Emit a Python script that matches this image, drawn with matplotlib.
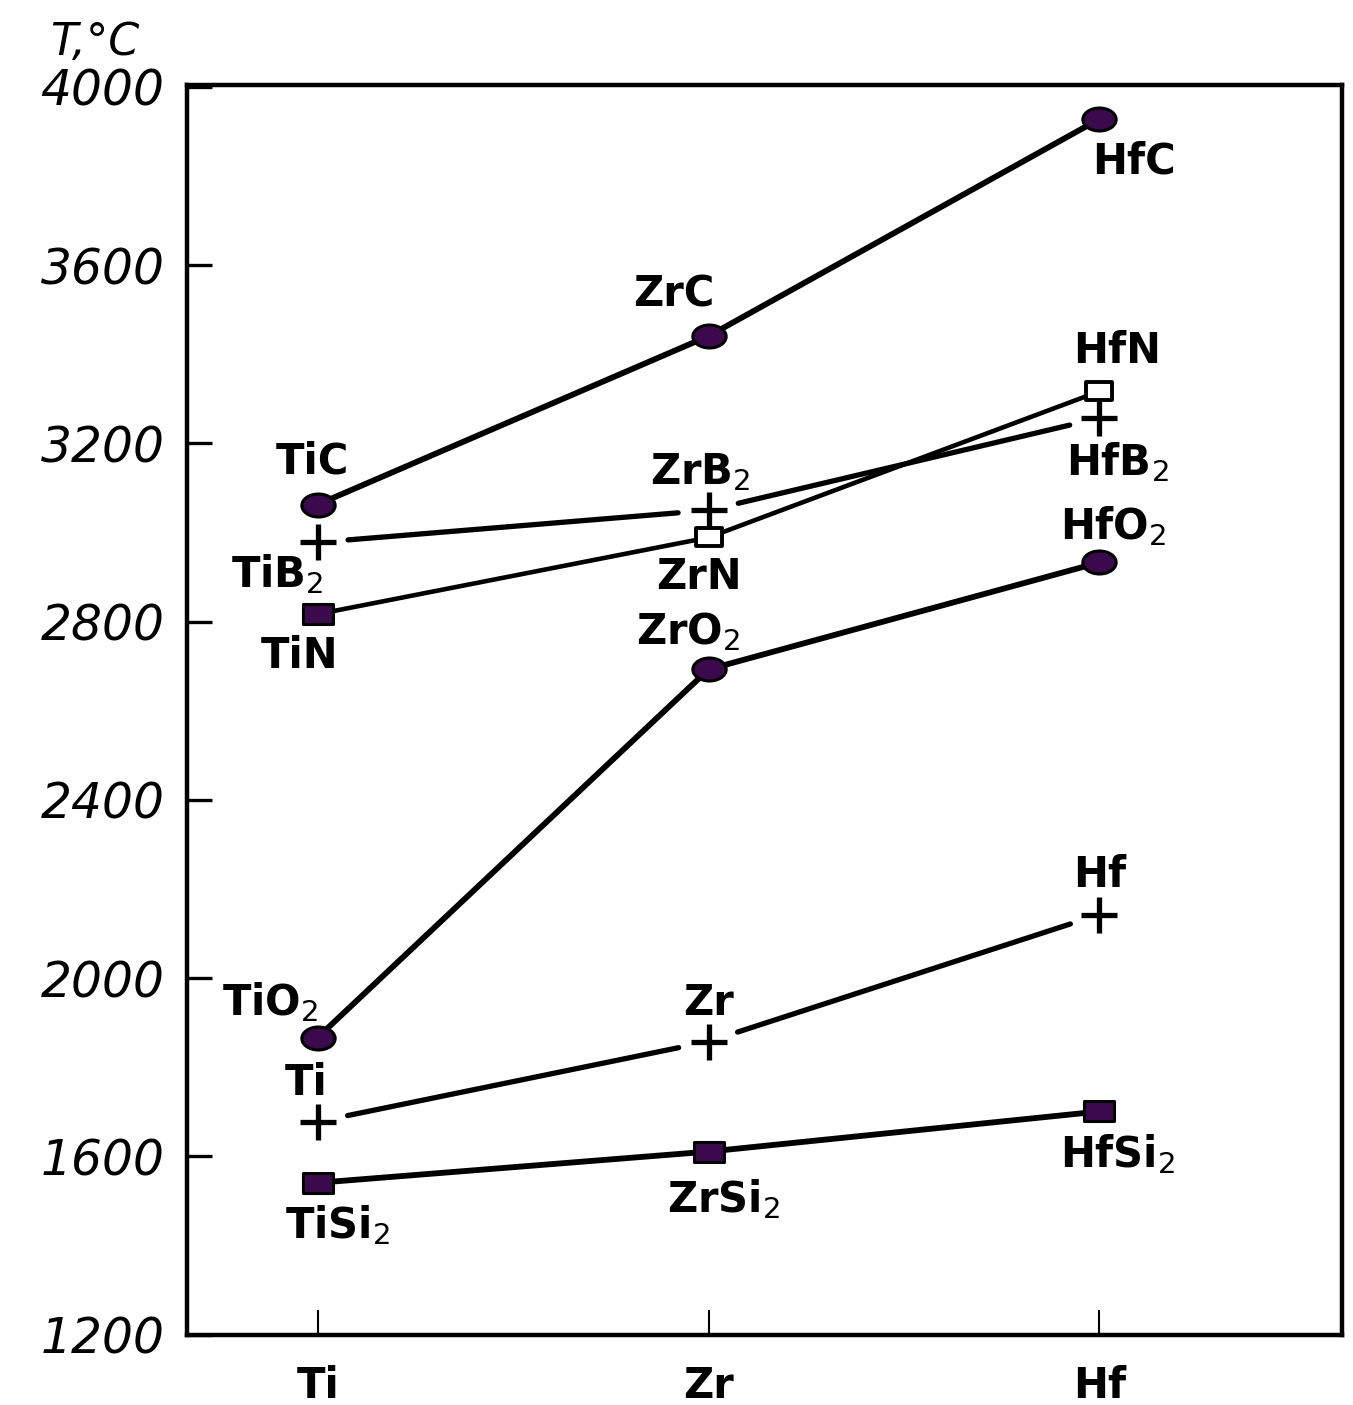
import numpy as np
import matplotlib.pyplot as plt
from matplotlib.path import Path
from matplotlib.transforms import Affine2D

# metalle ve bilesikler (erime sicakliklari, okunan degerler)
metals = ["Ti", "Zr", "Hf"]
x_pos = [0, 1, 2]

carbide_T = [3063, 3441, 3928]
nitride_T = [2817, 2989, 3317]
boride_T = [2978, 3050, 3257]
oxide_T = [1867, 2693, 2933]
metal_T = [1678, 1858, 2143]
silicide_T = [1541, 1611, 1701]

carbide_lbl = ["TiC", "ZrC", "HfC"]
nitride_lbl = ["TiN", "ZrN", "HfN"]
boride_lbl = ["TiB$_2$", "ZrB$_2$", "HfB$_2$"]
oxide_lbl = ["TiO$_2$", "ZrO$_2$", "HfO$_2$"]
metal_lbl = ["Ti", "Zr", "Hf"]
silicide_lbl = ["TiSi$_2$", "ZrSi$_2$", "HfSi$_2$"]

y_ticks = [1200, 1600, 2000, 2400, 2800, 3200, 3600, 4000]

fill = "#3b0a4d"

# biraz yatay basik marker'lar
ellipse = Path.unit_circle().transformed(Affine2D().scale(1.45, 1.0))
rect = Path([(-1.4, -1), (1.4, -1), (1.4, 1), (-1.4, 1), (-1.4, -1)],
            [Path.MOVETO, Path.LINETO, Path.LINETO, Path.LINETO, Path.CLOSEPOLY])

fig = plt.figure(figsize=(13.53, 14.05), dpi=100)
ax = fig.add_axes([0.138, 0.050, 0.8537, 0.8897])

# karbur, oksit, silisit: duz cizgiler
ax.plot(x_pos, carbide_T, color="black", lw=4.2, zorder=2)
ax.plot(x_pos, oxide_T, color="black", lw=4.2, zorder=2)
ax.plot(x_pos, silicide_T, color="black", lw=4.2, zorder=2)
ax.plot(x_pos, nitride_T, color="black", lw=3.3, zorder=2)

# borur ve metal: cizgi "+" isaretine degmiyor
for T in [boride_T, metal_T]:
    for i in range(2):
        ax.annotate("", xy=(x_pos[i + 1], T[i + 1]), xytext=(x_pos[i], T[i]),
                    arrowprops=dict(arrowstyle="-", lw=3.8, color="black",
                                    shrinkA=22, shrinkB=22))

ax.plot(x_pos, carbide_T, ls="none", marker=ellipse, ms=24, mfc=fill, mec="black", mew=2.2, zorder=3)
ax.plot(x_pos, oxide_T, ls="none", marker=ellipse, ms=24, mfc=fill, mec="black", mew=2.2, zorder=3)
ax.plot(x_pos, silicide_T, ls="none", marker=rect, ms=21, mfc=fill, mec="black", mew=2.2, zorder=3)
ax.plot(x_pos[:1], nitride_T[:1], ls="none", marker=rect, ms=21, mfc=fill, mec="black", mew=2.2, zorder=3)
ax.plot(x_pos[1:], nitride_T[1:], ls="none", marker=rect, ms=19, mfc="white", mec="black", mew=2.8, zorder=3)
ax.plot(x_pos, boride_T, ls="none", marker="+", ms=26, mec="black", mew=3.8, zorder=3)
ax.plot(x_pos, metal_T, ls="none", marker="+", ms=26, mec="black", mew=3.8, zorder=3)

# etiketler (piksel kaydirma)
offsets = {
    "carbide": [(-5, 43), (-35, 42), (35, -42)],
    "nitride": [(-18, -42), (-10, -40), (18, 40)],
    "boride": [(-40, -32), (-8, 38), (18, -44)],
    "oxide": [(-48, 35), (-20, 38), (14, 36)],
    "metal": [(-12, 39), (0, 39), (0, 40)],
    "silicide": [(20, -42), (15, -48), (18, -43)],
}
groups = [("carbide", carbide_T, carbide_lbl), ("nitride", nitride_T, nitride_lbl),
          ("boride", boride_T, boride_lbl), ("oxide", oxide_T, oxide_lbl),
          ("metal", metal_T, metal_lbl), ("silicide", silicide_T, silicide_lbl)]
for key, T, lbls in groups:
    for i in range(3):
        ax.annotate(lbls[i], xy=(x_pos[i], T[i]), xytext=offsets[key][i],
                    textcoords="offset pixels", ha="center", va="center",
                    fontsize=30, fontweight="bold", color="black")

ax.set_xlim(-0.335, 2.62)
ax.set_ylim(1200, 4005)
ax.set_xticks(x_pos)
ax.set_xticklabels(metals, fontsize=30, fontweight="bold")
ax.set_yticks(y_ticks)
ax.set_yticklabels([str(t) for t in y_ticks], fontsize=35, style="italic")
ax.tick_params(axis="y", direction="in", length=18, width=2.4, pad=16)
ax.tick_params(axis="x", direction="in", length=18, width=1.5, pad=22)
for s in ax.spines.values():
    s.set_linewidth(3.2)

fig.text(95 / 1353, 1 - 42 / 1405, "T,°C", fontsize=32, style="italic",
         ha="center", va="center")

plt.savefig("out.png", dpi=100)
